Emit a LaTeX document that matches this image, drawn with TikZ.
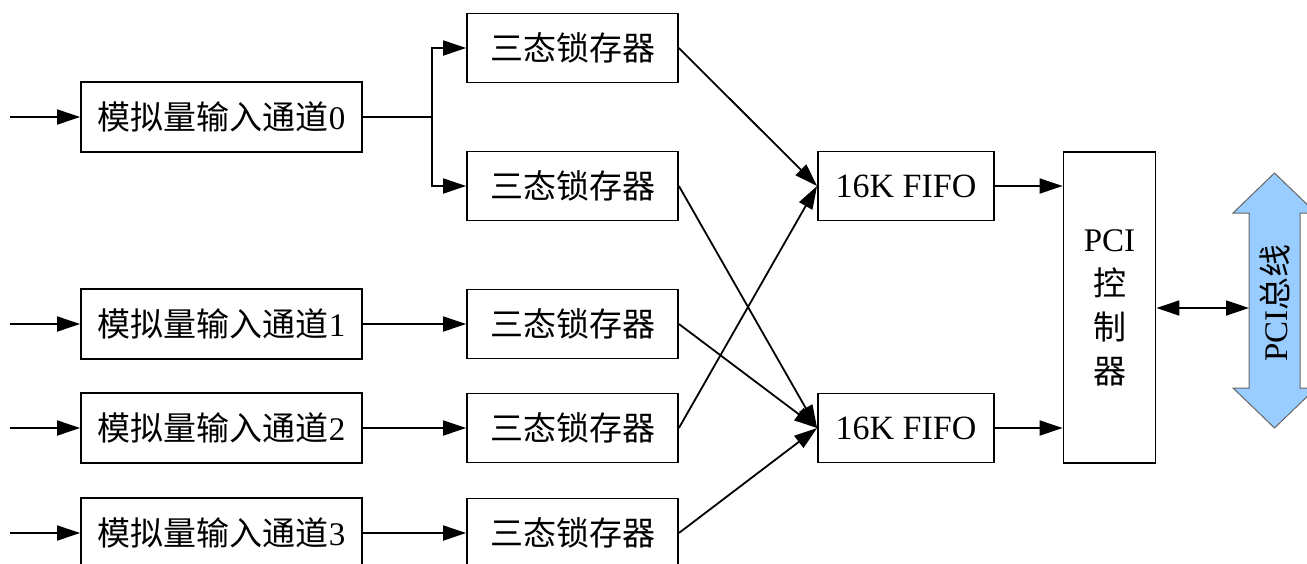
\documentclass[tikz,border=0pt]{standalone}
\usepackage{fontspec}
\setmainfont{Liberation Serif}
\newfontfamily\cjk{Noto Sans CJK SC}
\usetikzlibrary{arrows.meta}
\begin{document}
\begin{tikzpicture}[x=1pt,y=-1pt,
  box/.style={draw,line width=1.8pt,inner sep=0pt,font=\fontsize{33}{40}\selectfont},
  inbox/.style={box,minimum width=281pt,minimum height=70pt},
  latch/.style={box,minimum width=211pt,minimum height=69pt},
  fifo/.style={box,minimum width=176pt,minimum height=69pt},
  conn/.style={line width=1.8pt,-{Triangle[length=23pt,width=15pt]}},
  plain/.style={line width=1.8pt}]
\useasboundingbox (0,0) rectangle (1307,563);
% input channels
\node[inbox] (in0) at (221.5,117) {{\cjk 模拟量输入通道}0};
\node[inbox] (in1) at (221.5,324) {{\cjk 模拟量输入通道}1};
\node[inbox] (in2) at (221.5,428) {{\cjk 模拟量输入通道}2};
\node[inbox] (in3) at (221.5,533) {{\cjk 模拟量输入通道}3};
\coordinate (s0) at (10,117);
\coordinate (s1) at (10,324);
\coordinate (s2) at (10,428);
\coordinate (s3) at (10,533);
% latches
\node[latch] (la) at (572.5,48) {\cjk 三态锁存器};
\node[latch] (lb) at (572.5,186) {\cjk 三态锁存器};
\node[latch] (l1) at (572.5,324) {\cjk 三态锁存器};
\node[latch] (l2) at (572.5,428) {\cjk 三态锁存器};
\node[latch] (l3) at (572.5,533) {\cjk 三态锁存器};
% fifos
\node[fifo,font=\fontsize{34}{40}\selectfont] (f1) at (906,186) {16K FIFO};
\node[fifo,font=\fontsize{34}{40}\selectfont] (f2) at (906,428) {16K FIFO};
% PCI controller
\node[box,minimum width=92pt,minimum height=311pt,align=center,
  font=\fontsize{33}{44}\selectfont] (pci) at (1109.5,307.5) {PCI\\{\cjk 控}\\{\cjk 制}\\{\cjk 器}};
% PCI bus arrow
\draw[draw=gray!80!black,line width=1pt,fill={rgb,255:red,153;green,204;blue,255}]
  (1274.5,173) -- (1316,213) -- (1300,213) -- (1300,388) -- (1316,388) -- (1274.5,428)
  -- (1233,388) -- (1249,388) -- (1249,213) -- (1233,213) -- cycle;
\node[rotate=90,inner sep=0pt,font=\fontsize{33}{40}\selectfont] (bus) at (1274.5,303) {PCI{\cjk 总线}};
\coordinate (busL) at (1249,308);
% connectors
\foreach \i in {0,1,2,3} \draw[conn] (s\i) -- (in\i.west);
\coordinate (br) at (432,117);
\draw[plain] (in0.east) -- (br);
\draw[conn] (br) |- (la.west);
\draw[conn] (br) |- (lb.west);
\draw[conn] (in1.east) -- (l1.west);
\draw[conn] (in2.east) -- (l2.west);
\draw[conn] (in3.east) -- (l3.west);
\draw[conn] (la.east) -- (f1.west);
\draw[conn] (l2.east) -- (f1.west);
\draw[conn] (lb.east) -- (f2.west);
\draw[conn] (l1.east) -- (f2.west);
\draw[conn] (l3.east) -- (f2.west);
\draw[conn] (f1.east) -- (f1.east -| pci.west);
\draw[conn] (f2.east) -- (f2.east -| pci.west);
\draw[line width=1.8pt,{Triangle[length=23pt,width=15pt]}-{Triangle[length=23pt,width=15pt]}] (pci.east |- busL) -- (busL);
\end{tikzpicture}
\end{document}
